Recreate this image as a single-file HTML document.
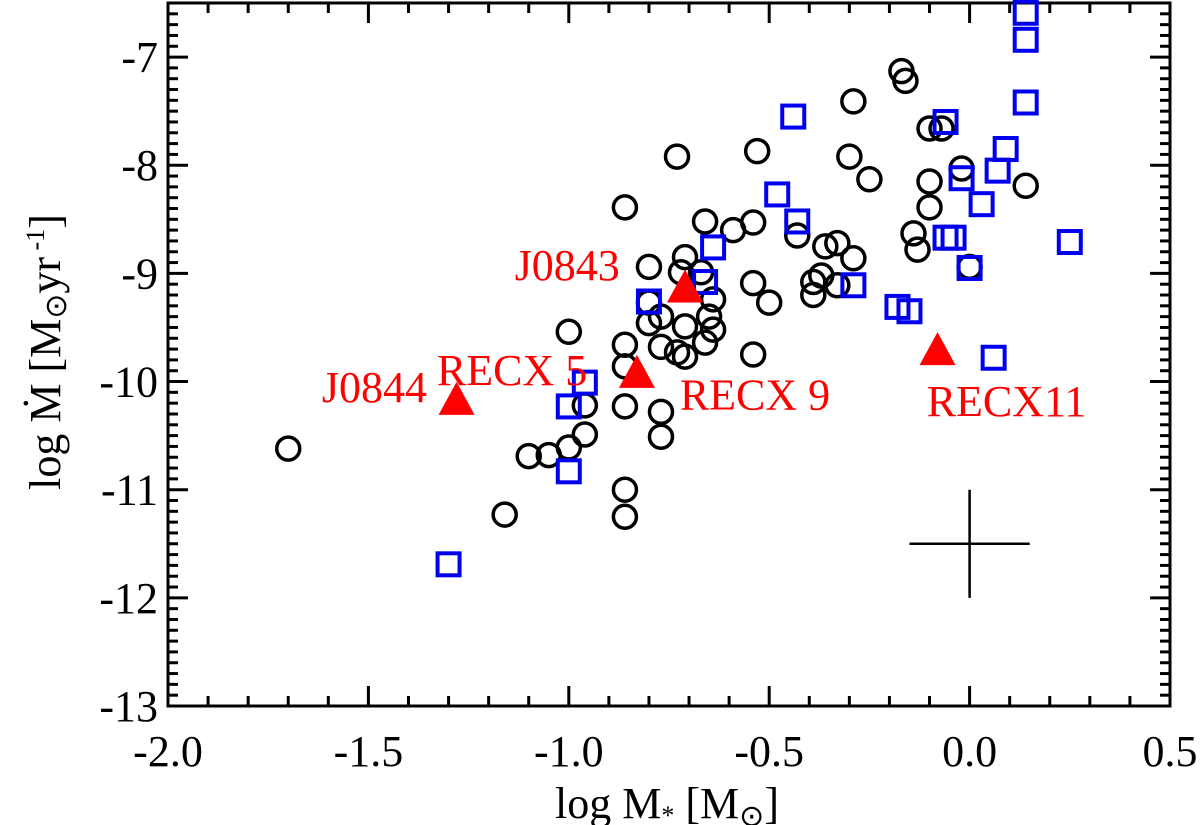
<!DOCTYPE html>
<html><head><meta charset="utf-8"><style>
html,body{margin:0;padding:0;background:#fff;}
svg{display:block;font-family:"Liberation Serif",serif;}
</style></head><body>
<svg id="chart" width="1200" height="825" viewBox="0 0 1200 825" xmlns="http://www.w3.org/2000/svg">
<g id="axes"></g>
<g id="marks"></g>
<text x="667" y="818" font-size="44" text-anchor="middle">log M<tspan font-size="26" dy="6">*</tspan><tspan dy="-6"> [M</tspan><tspan font-size="30" dy="8">⊙</tspan><tspan dy="-8">]</tspan></text>
<text transform="translate(60,352) rotate(-90)" font-size="44" text-anchor="middle">log Ṁ [M<tspan font-size="30" dy="6">⊙</tspan><tspan dy="-6">yr</tspan><tspan font-size="26" dy="-16"> -1</tspan><tspan dy="16">]</tspan></text>
</svg>
<script>
const xTicks=[-2.0,-1.5,-1.0,-0.5,0.0,0.5];
const xTickLabels=["-2.0","-1.5","-1.0","-0.5","0.0","0.5"];
const yTicks=[-13,-12,-11,-10,-9,-8,-7];
const yTickLabels=["-13","-12","-11","-10","-9","-8","-7"];
const circX=[-1.70,-1.16,-1.10,-1.05,-1.00,-0.96,-0.96,-1.00,-0.86,-0.86,-0.86,-0.86,-0.86,-0.86,-0.77,-0.77,-0.80,-0.80,-0.80,-0.77,-0.77,-0.73,-0.71,-0.72,-0.67,-0.64,-0.65,-0.64,-0.66,-0.71,-0.71,-0.73,-0.66,-0.59,-0.54,-0.53,-0.54,-0.50,-0.54,-0.43,-0.39,-0.39,-0.37,-0.36,-0.33,-0.29,-0.33,-0.30,-0.29,-0.25,-0.17,-0.16,-0.10,-0.07,-0.02,-0.10,-0.10,-0.14,-0.13,0.00,0.14];
const circY=[-10.62,-11.23,-10.69,-10.68,-10.61,-10.49,-10.22,-9.54,-8.39,-9.66,-9.86,-10.23,-11.00,-11.25,-10.28,-10.51,-8.94,-9.27,-9.46,-9.40,-9.68,-7.92,-8.85,-8.99,-8.99,-9.24,-9.40,-9.52,-9.64,-9.49,-9.77,-9.73,-8.52,-8.60,-8.53,-7.87,-9.09,-9.27,-9.75,-8.65,-9.20,-9.08,-9.02,-8.75,-8.72,-8.86,-9.11,-7.92,-7.41,-8.13,-7.13,-7.22,-7.66,-7.66,-8.03,-8.15,-8.39,-8.63,-8.78,-8.94,-8.19];
const sqX=[-1.30,-1.00,-1.00,-0.96,-0.80,-0.66,-0.64,-0.48,-0.43,-0.44,-0.29,-0.18,-0.15,-0.06,-0.06,-0.04,-0.02,0.00,0.03,0.07,0.09,0.06,0.14,0.14,0.14,0.25];
const sqY=[-11.69,-10.83,-10.23,-10.01,-9.26,-9.08,-8.76,-8.27,-8.52,-7.55,-9.11,-9.31,-9.35,-7.60,-8.67,-8.67,-8.12,-8.95,-8.36,-8.05,-7.85,-9.78,-7.42,-6.84,-6.59,-8.71];
const triX=[-1.28,-0.83,-0.71,-0.08];
const triY=[-10.17,-9.92,-9.13,-9.71];
const labelNames=["J0843","J0844","RECX 5","RECX 9","RECX11"];
const labelX=[-1.135,-1.616,-1.329,-0.723,-0.107];
const labelY=[-9.06,-10.19,-10.03,-10.26,-10.32];
const errX=[0.0]; const errY=[-11.5]; const errDX=[0.15]; const errDY=[0.5];

const L=168,R=1170,T=3,B=706;
const xs=v=>L+(v+2)*(R-L)/2.5;
const ys=v=>B-(v+13)*(B-T)/6.5;
const NS="http://www.w3.org/2000/svg";
function mk(parent,tag,attrs){const e=document.createElementNS(NS,tag);for(const k in attrs)e.setAttribute(k,attrs[k]);parent.appendChild(e);return e;}
const ax=document.getElementById('axes'), mg=document.getElementById('marks');
const fr=mk(ax,'rect',{x:L,y:T,width:R-L,height:B-T,fill:'none',stroke:'#000','stroke-width':3});


for(let i=0;i<=25;i++){const v=-2+i*0.1;const x=xs(v);const len=(i%5===0)?20:10;
 mk(ax,'line',{x1:x,y1:B,x2:x,y2:B-len,stroke:'#000','stroke-width':3});
 mk(ax,'line',{x1:x,y1:T,x2:x,y2:T+len,stroke:'#000','stroke-width':3});}
for(let i=0;i<=65;i++){const v=-13+i*0.1;const y=ys(v);const len=(i%10===0)?20:10;
 mk(ax,'line',{x1:L,y1:y,x2:L+len,y2:y,stroke:'#000','stroke-width':3});
 mk(ax,'line',{x1:R,y1:y,x2:R-len,y2:y,stroke:'#000','stroke-width':3});}
xTicks.forEach((v,i)=>{const t=mk(ax,'text',{x:xs(v),y:B+60,'font-size':44,'text-anchor':'middle'});t.textContent=xTickLabels[i];
 
 });
yTicks.forEach((v,i)=>{const t=mk(ax,'text',{x:L-10,y:ys(v)+15,'font-size':44,'text-anchor':'end'});t.textContent=yTickLabels[i];
 
 });
circX.forEach((v,i)=>{const c=mk(mg,'circle',{cx:xs(v),cy:ys(circY[i]),r:11.5,fill:'none',stroke:'#000','stroke-width':3.5});
 
 });
sqX.forEach((v,i)=>{const s=mk(mg,'rect',{x:xs(v)-11,y:ys(sqY[i])-11,width:22,height:22,fill:'none',stroke:'#0000ee','stroke-width':4});
 
 });
triX.forEach((v,i)=>{const x=xs(v),y=ys(triY[i]);
 const p=mk(mg,'polygon',{points:`${x-18},${y+15} ${x+18},${y+15} ${x},${y-18}`,fill:'#ff0000'});
 
 });
labelNames.forEach((n,i)=>{const t=mk(mg,'text',{x:xs(labelX[i]),y:ys(labelY[i]),'font-size':44,fill:'#ff0000'});t.textContent=n;
 
 });
errX.forEach((v,i)=>{const x=xs(v),y=ys(errY[i]);
 const h=mk(mg,'line',{x1:xs(v-errDX[i]),y1:y,x2:xs(v+errDX[i]),y2:y,stroke:'#000','stroke-width':2.5});
 
 
 const vv=mk(mg,'line',{x1:x,y1:ys(errY[i]-errDY[i]),x2:x,y2:ys(errY[i]+errDY[i]),stroke:'#000','stroke-width':2.5});
 
 });
</script>
</body></html>
